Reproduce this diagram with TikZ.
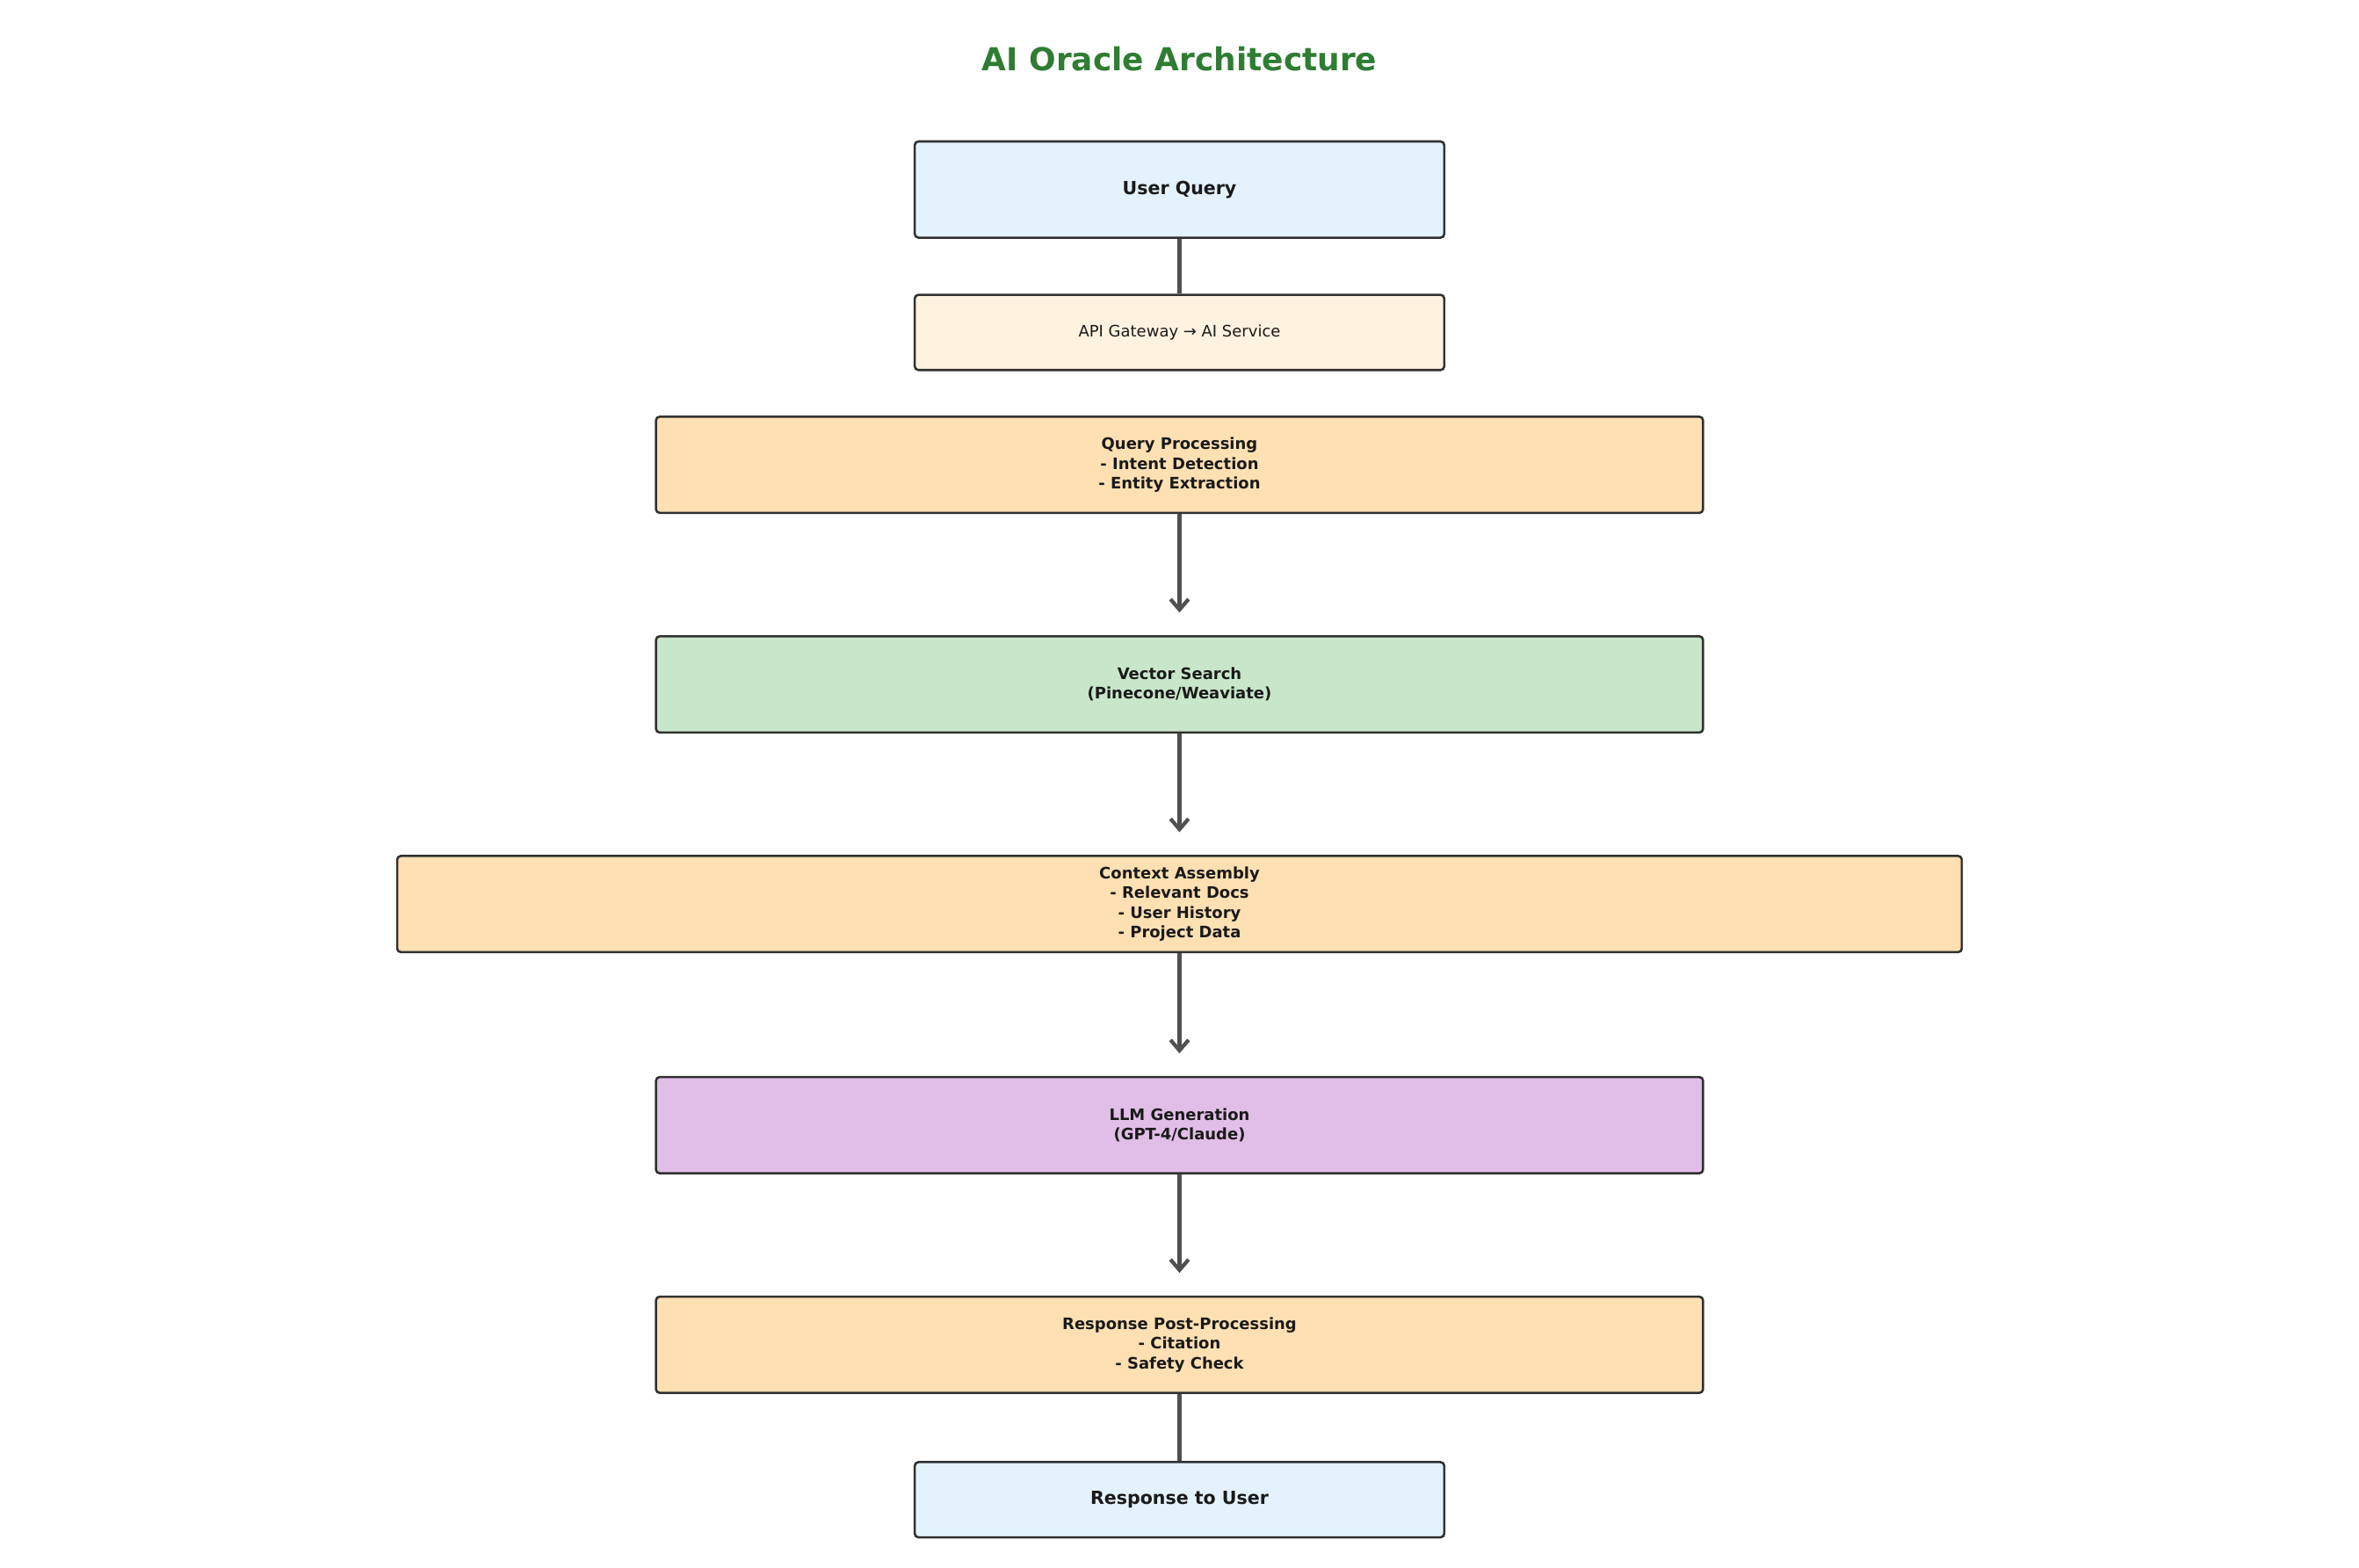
\documentclass[tikz,border=0pt]{standalone}
\usepackage{fontspec}
\setmainfont{DejaVu Sans}
\usetikzlibrary{arrows.meta}
\definecolor{lblue}{HTML}{E3F2FD}
\definecolor{lcream}{HTML}{FFF3E0}
\definecolor{lorange}{HTML}{FFE0B2}
\definecolor{lgreen}{HTML}{C8E6C9}
\definecolor{lpurple}{HTML}{E1BEE7}
\definecolor{tgreen}{HTML}{2E7D32}
\definecolor{conn}{HTML}{505050}
\definecolor{txt}{HTML}{1A1A1A}
\tikzset{
 box/.style={draw=txt!90, line width=1.5pt, rounded corners=2.5pt, inner sep=0pt, align=center, text=txt, font=\fontsize{10.5}{13}\selectfont\bfseries},
 link/.style={draw=conn, line width=2.5pt},
 arr/.style={link, -{Straight Barb[length=7pt,width=12pt,line width=2.5pt]}, shorten >=15pt}
}
\begin{document}
\begin{tikzpicture}[x=1pt,y=-1pt]
\useasboundingbox (0,0) rectangle (1568,1042);
\node[font=\fontsize{21}{24}\selectfont\bfseries, text=tgreen] (title) at (784,39) {AI Oracle Architecture};
\node[box, fill=lblue, minimum width=352pt, minimum height=64pt, font=\fontsize{12}{14}\selectfont\bfseries] (uq) at (784,126) {User Query};
\node[box, fill=lcream, minimum width=352pt, minimum height=50pt, font=\fontsize{10.5}{13}\selectfont] (api) at (784,221) {API Gateway → AI Service};
\node[box, fill=lorange, minimum width=696pt, minimum height=64pt] (qp) at (784,309) {Query Processing\\- Intent Detection\\- Entity Extraction};
\node[box, fill=lgreen, minimum width=696pt, minimum height=64pt] (vs) at (784,455) {Vector Search\\(Pinecone/Weaviate)};
\node[box, fill=lorange, minimum width=1040pt, minimum height=64pt] (ca) at (784,601) {Context Assembly\\- Relevant Docs\\- User History\\- Project Data};
\node[box, fill=lpurple, minimum width=696pt, minimum height=64pt] (llm) at (784,748) {LLM Generation\\(GPT-4/Claude)};
\node[box, fill=lorange, minimum width=696pt, minimum height=64pt] (rp) at (784,894) {Response Post-Processing\\- Citation\\- Safety Check};
\node[box, fill=lblue, minimum width=352pt, minimum height=50pt, font=\fontsize{12}{14}\selectfont\bfseries] (ru) at (784,997) {Response to User};
\draw[link] (uq.south) -- (api.north);
\draw[arr] (qp.south) -- (vs.north);
\draw[arr] (vs.south) -- (ca.north);
\draw[arr] (ca.south) -- (llm.north);
\draw[arr] (llm.south) -- (rp.north);
\draw[link] (rp.south) -- (ru.north);
\end{tikzpicture}
\end{document}
